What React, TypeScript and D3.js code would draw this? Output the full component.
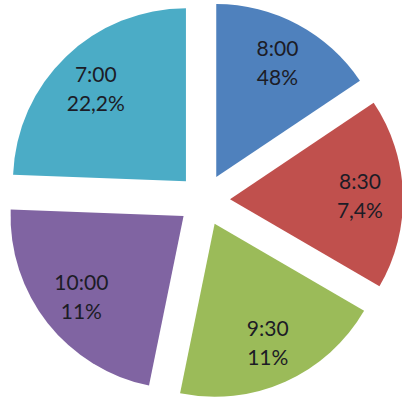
import React from "react";
import * as d3 from "d3";

// Slice categories, their sector sizes, and the share text printed on each slice
const times = ["8:00", "8:30", "9:30", "10:00", "7:00"];
const sectorSizes = [15.6, 17.8, 19.8, 22.4, 24.4];
const shareLabels = ["48%", "7,4%", "11%", "11%", "22,2%"];
const colors = ["#4F81BD", "#C0504D", "#9BBB59", "#8064A2", "#4BACC6"];

const W = 402;
const H = 399;
const CX = 204;
const CY = 200;
const RADIUS = 173;
const EXPLODE = 26;
const LABEL_R = 130;

export default function App() {
  const data = times.map((t, i) => ({ t, v: sectorSizes[i], share: shareLabels[i], color: colors[i] }));
  const pie = d3
    .pie<any>()
    .sort(null)
    .value((d) => d.v)
    .startAngle(0)
    .endAngle(2 * Math.PI);
  const arcs = pie(data);
  const arc = d3.arc<any>().innerRadius(0).outerRadius(RADIUS);

  return (
    <svg
      width={W}
      height={H}
      style={{ position: "absolute", left: 0, top: 0, background: "#fff" }}
    >
      <g transform={`translate(${CX},${CY})`}>
        {arcs.map((a, i) => {
          const mid = (a.startAngle + a.endAngle) / 2;
          const dx = Math.sin(mid) * EXPLODE;
          const dy = -Math.cos(mid) * EXPLODE;
          const lx = Math.sin(mid) * LABEL_R;
          const ly = -Math.cos(mid) * LABEL_R;
          return (
            <g key={i} transform={`translate(${dx},${dy})`}>
              <path d={arc(a) as string} fill={a.data.color} />
              <text
                x={lx}
                y={ly}
                textAnchor="middle"
                fontFamily="Lato, 'Open Sans', sans-serif"
                fontSize={21}
                fill="#1c1c26"
              >
                <tspan x={lx} y={ly - 14.5} dominantBaseline="central">
                  {a.data.t}
                </tspan>
                <tspan x={lx} y={ly + 14.5} dominantBaseline="central">
                  {a.data.share}
                </tspan>
              </text>
            </g>
          );
        })}
      </g>
    </svg>
  );
}
